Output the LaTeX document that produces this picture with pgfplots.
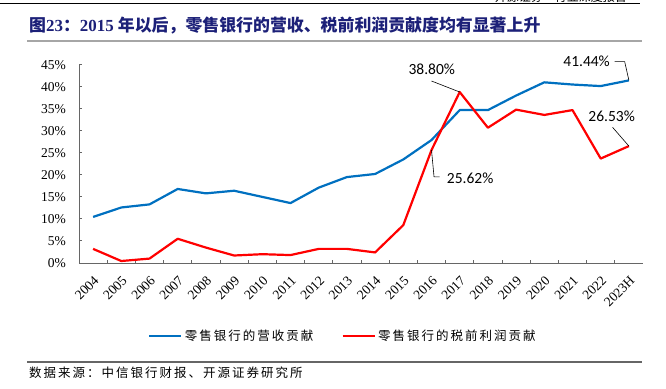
\documentclass[border=0pt]{standalone}
\usepackage{fontspec}
\usepackage{pgfplots}
\pgfplotsset{compat=1.18}
\setmainfont{Liberation Serif}
\newfontfamily\cjk{Noto Sans CJK SC}
\newfontfamily\cjkls{Noto Sans CJK SC}[LetterSpace=16]
\newfontfamily\carlito{Carlito}
\definecolor{cblue}{HTML}{0070C0}
\definecolor{cred}{HTML}{FF0000}
\definecolor{ctitle}{RGB}{28,32,120}
\begin{document}
\begin{tikzpicture}
\useasboundingbox (0,0) rectangle (666pt,388pt);
\draw[black, line width=1.3pt] (0,384.7pt) -- (640pt,384.7pt);
\node[anchor=base east, inner sep=0] at (627pt,386.3pt) {\cjk\fontsize{12}{12}\selectfont 开源证券\quad 行业深度报告};
\node[anchor=west, inner sep=0, text=ctitle] at (29pt,362.2pt) {\fontsize{16.9}{18}\selectfont{\cjk\bfseries 图}{\bfseries 23}{\cjk\bfseries ：}{\bfseries 2015 }{\cjk\bfseries 年以后，零售银行的营收、税前利润贡献度均有显著上升}};
\draw[black!35, line width=1.5pt] (27pt,347pt) -- (641.7pt,347pt);
\draw[black!60, line width=1.3pt] (27pt,26pt) -- (641.7pt,26pt);
\node[anchor=west, inner sep=0] at (29pt,15pt) {\cjkls\fontsize{12.5}{14}\selectfont 数据来源：中信银行财报、开源证券研究所};
\begin{axis}[
  at={(79pt,125pt)}, anchor=south west,
  scale only axis, width=564pt, height=198.3pt,
  xmin=-0.5, xmax=19.5, ymin=0, ymax=45,
  clip=false,
  axis lines*=left,
  axis line style={black!60, line width=1pt},
  xtick={0,...,19},
  xticklabels={2004,2005,2006,2007,2008,2009,2010,2011,2012,2013,2014,2015,2016,2017,2018,2019,2020,2021,2022,2023H},
  minor xtick={0.5,1.5,...,18.5},
  ytick={0,5,...,45},
  minor ytick={0,5,...,45},
  yticklabels={0\%,5\%,10\%,15\%,20\%,25\%,30\%,35\%,40\%,45\%},
  major tick length=0pt, minor tick length=3.3pt,
  tick align=inside,
  tick style={black!60, line width=1pt},
  xticklabel style={font=\fontsize{13.5}{16}\selectfont, inner sep=0pt, yshift=-12pt, rotate=45, anchor=north east},
  yticklabel style={font=\fontsize{13.5}{16}\selectfont, inner sep=0pt, anchor=east, xshift=-13pt},
  legend columns=2,
  legend cell align=left,
  legend image code/.code={\draw[#1, line width=2.8pt] (0pt,0pt) -- (32pt,0pt);},
  legend style={at={(0.1223,-0.368)}, anchor=west, draw=none, fill=none, inner sep=0pt, outer sep=0pt,
    font=\cjkls\fontsize{12.5}{14}\selectfont, nodes={inner sep=0pt},
    /tikz/every odd column/.append style={column sep=2pt},
    /tikz/every even column/.append style={column sep=28pt}},
]
\addplot[cblue, line width=2.2pt, line join=round] coordinates {
(0,10.45) (1,12.6) (2,13.3) (3,16.8) (4,15.8) (5,16.4) (6,15.0) (7,13.6) (8,17.1) (9,19.5)
(10,20.2) (11,23.5) (12,27.9) (13,34.7) (14,34.7) (15,38.0) (16,41.0) (17,40.5) (18,40.15) (19,41.44)};
\addlegendentry{零售银行的营收贡献}
\addplot[cred, line width=2.2pt, line join=round] coordinates {
(0,3.2) (1,0.45) (2,1.0) (3,5.5) (4,3.5) (5,1.7) (6,2.0) (7,1.8) (8,3.2) (9,3.2)
(10,2.4) (11,8.6) (12,25.62) (13,38.80) (14,30.7) (15,34.8) (16,33.6) (17,34.7) (18,23.7) (19,26.53)};
\addlegendentry{零售银行的税前利润贡献}
\draw[black, line width=0.6pt] (axis cs:12.0,41.3) -- (axis cs:13,38.8);
\node[font=\carlito\fontsize{15.5}{16}\selectfont, inner sep=0] at (axis cs:12.01,44.0) {38.80\%};
\draw[black, line width=0.6pt] (axis cs:12.0,25.62) -- (axis cs:12.09,19.56) -- (axis cs:12.29,19.56);
\node[font=\carlito\fontsize{15.5}{16}\selectfont, inner sep=0] at (axis cs:13.37,19.2) {25.62\%};
\draw[black, line width=0.6pt] (axis cs:18.49,45.7) -- (axis cs:18.85,45.7) -- (axis cs:19,41.44);
\node[font=\carlito\fontsize{15.5}{16}\selectfont, inner sep=0] at (axis cs:17.5,45.7) {41.44\%};
\draw[black, line width=0.6pt] (axis cs:18.42,30.8) -- (axis cs:19,26.53);
\node[font=\carlito\fontsize{15.5}{16}\selectfont, inner sep=0] at (axis cs:18.39,33.4) {26.53\%};
\end{axis}
\end{tikzpicture}
\end{document}
